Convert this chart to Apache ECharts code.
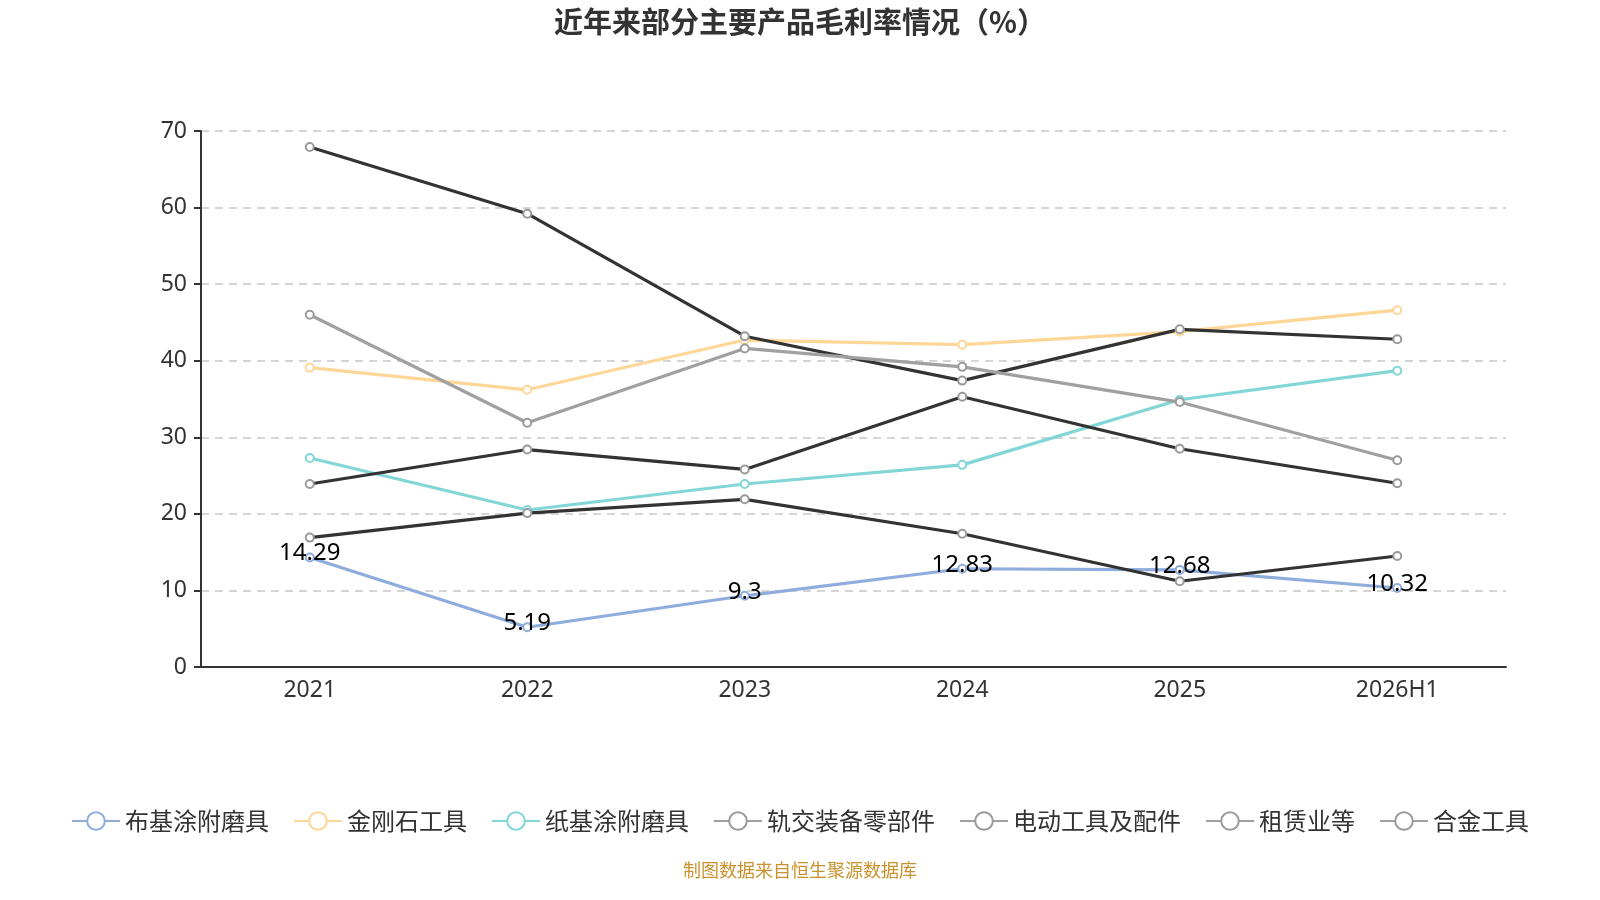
<!DOCTYPE html>
<html>
<head>
<meta charset="utf-8">
<title>近年来部分主要产品毛利率情况</title>
<script src="https://cdn.jsdelivr.net/npm/echarts@6/dist/echarts.min.js"></script>
<style>
html,body{margin:0;padding:0;background:#fff;}
#main{width:1600px;height:900px;}
</style>
</head>
<body>
<div id="main"></div>
<script>
// 数据
var years = ['2021', '2022', '2023', '2024', '2025', '2026H1'];
var names = ['布基涂附磨具', '金刚石工具', '纸基涂附磨具', '轨交装备零部件', '电动工具及配件', '租赁业等', '合金工具'];
var bujiData = [14.29, 5.19, 9.3, 12.83, 12.68, 10.32];
var jingangshiData = [39.1, 36.2, 42.7, 42.1, 43.8, 46.6];
var zhijiData = [27.3, 20.5, 23.9, 26.4, 34.9, 38.7];
var guijiaoData = [67.9, 59.2, 43.2, 37.4, 44.1, 42.8];
var diandongData = [46.0, 31.9, 41.6, 39.2, 34.6, 27.0];
var zulinData = [23.9, 28.4, 25.8, 35.3, 28.5, 24.0];
var hejinData = [16.9, 20.1, 21.9, 17.4, 11.2, 14.5];

var main = document.getElementById('main');
var mychart = echarts.init(main);

function line(name, data, color, symColor, showLabel) {
    return {
        name: name, type: 'line', data: data,
        symbol: 'emptyCircle', symbolSize: 8,
        lineStyle: {width: 3.2, color: color},
        itemStyle: {color: symColor, borderWidth: 2},
        label: {show: !!showLabel, position: 'inside', offset: [0, -4], color: '#000', fontSize: 24, fontFamily: 'Noto Sans'},
        emphasis: {disabled: true}
    };
}

var option = {
    title: {text: '近年来部分主要产品毛利率情况（%）', left: 'center', top: 2,
        textStyle: {fontSize: 29, fontWeight: 'bold', color: '#333', fontFamily: 'Noto Sans CJK SC'}},
    legend: {
        bottom: 62, itemWidth: 48, itemHeight: 22, itemGap: 24,
        textStyle: {fontSize: 24, color: '#333', fontFamily: 'Noto Sans CJK SC'},
        data: [
            {name: names[0]}, {name: names[1]}, {name: names[2]},
            {name: names[3], lineStyle: {color: '#a0a0a0'}},
            {name: names[4], lineStyle: {color: '#a0a0a0'}},
            {name: names[5], lineStyle: {color: '#a0a0a0'}},
            {name: names[6], lineStyle: {color: '#a0a0a0'}}
        ]
    },
    grid: {left: 201, right: 94, top: 131, bottom: 233},
    xAxis: {type: 'category', data: years, boundaryGap: true,
        axisLine: {lineStyle: {color: '#333', width: 2}},
        axisTick: {length: 7, lineStyle: {color: '#333', width: 2}},
        axisLabel: {fontSize: 23, color: '#333', margin: 12, fontFamily: 'Noto Sans'}},
    yAxis: {type: 'value', min: 0, max: 70, interval: 10,
        axisLine: {show: true, lineStyle: {color: '#333', width: 2}},
        axisTick: {show: true, length: 7, lineStyle: {color: '#333', width: 2}},
        axisLabel: {fontSize: 23, color: '#333', margin: 14, fontFamily: 'Noto Sans'},
        splitLine: {lineStyle: {type: [8, 6], color: '#c8c8c8', width: 1.5}}},
    series: [
        line(names[0], bujiData, '#8eacdc', '#8eacdc', true),
        line(names[1], jingangshiData, '#fed798', '#fed798'),
        line(names[2], zhijiData, '#83d6d6', '#83d6d6'),
        line(names[3], guijiaoData, '#333333', '#9a9a9a'),
        line(names[4], diandongData, '#a0a0a0', '#9a9a9a'),
        line(names[5], zulinData, '#333333', '#9a9a9a'),
        line(names[6], hejinData, '#333333', '#9a9a9a')
    ],
    graphic: [{type: 'text', left: 'center', top: 861,
        style: {text: '制图数据来自恒生聚源数据库', fill: '#c9922e', fontSize: 18, fontFamily: 'Noto Sans CJK SC'}}]
};
mychart.setOption(option);
</script>
</body>
</html>
